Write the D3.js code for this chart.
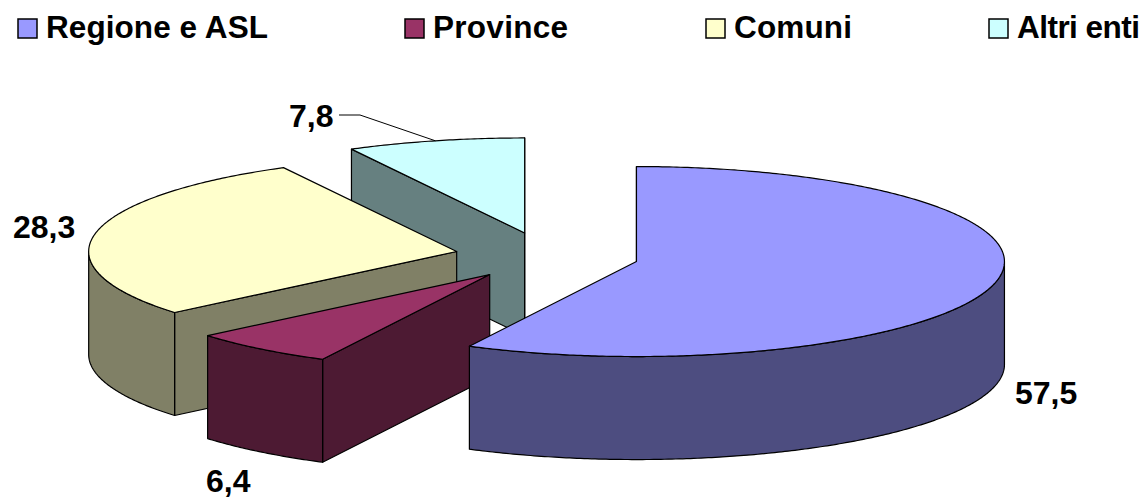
<!DOCTYPE html>
<html>
<head>
<meta charset="utf-8">
<script src="https://cdnjs.cloudflare.com/ajax/libs/d3/7.8.5/d3.min.js"></script>
<style>
    html, body { margin: 0; padding: 0; background: #fff; }
    svg { display: block; }
    text { font-family: "Liberation Sans", Arial, sans-serif; font-weight: bold; fill: #000; }
</style>
</head>
<body>
<div id="chart"></div>
<script>
const categories = ['Regione e ASL', 'Province', 'Comuni', 'Altri enti'];
const values = [57.5, 6.4, 28.3, 7.8];
const valueLabels = ['57,5', '6,4', '28,3', '7,8'];
const topColors = ['#9999ff', '#993366', '#ffffcc', '#ccffff'];
const sideColors = ['#4d4d80', '#4d1a33', '#808066', '#668080'];

const width = 1144;
const height = 499;
const center = {x: 547, y: 256};
const radiusX = 368;
const radiusY = 95;
const depth = 103;
const explode = 0.25;

const legendX = [18, 405, 706, 989];
const legendWidth = [222, 135, 118, 123];
const labelPos = [[1015, 404], [206, 492], [13, 238], [289, 127]];

const svg = d3.select('#chart')
    .append('svg')
    .attr('width', width)
    .attr('height', height);

const xScale = d3.scaleLinear().domain([-1, 1]).range([center.x - radiusX, center.x + radiusX]);
const yScale = d3.scaleLinear().domain([-1, 1]).range([center.y - radiusY, center.y + radiusY]);

const slices = d3.pie().sort(null).startAngle(0).endAngle(2 * Math.PI)(values);

const line = d3.line().x(d => d[0]).y(d => d[1]);

// unit circle point for an angle (0 = 12 o'clock, clockwise), with the slice's explode offset
function rim(slice, angle, r) {
    const mid = (slice.startAngle + slice.endAngle) / 2;
    const ux = explode * Math.sin(mid) + r * Math.sin(angle);
    const uy = -explode * Math.cos(mid) - r * Math.cos(angle);
    return [xScale(ux), yScale(uy)];
}

function arcPoints(slice, a0, a1, r) {
    const n = Math.max(2, Math.ceil((a1 - a0) / 0.01));
    return d3.range(n + 1).map(i => rim(slice, a0 + (a1 - a0) * i / n, r));
}

function drop(points) {
    return points.map(p => [p[0], p[1] + depth]);
}

function drawFace(g, points, fill) {
    g.append('path')
        .attr('d', line(points) + 'Z')
        .attr('fill', fill)
        .attr('stroke', '#000')
        .attr('stroke-width', 1.2)
        .attr('stroke-linejoin', 'round');
}

// a cut face is seen only if its outward normal points down the screen
function facesViewer(normalAngle) {
    return -Math.cos(normalAngle) > -1e-6;
}

// painter's order: back slices first
[3, 2, 1, 0].forEach(i => {
    const slice = slices[i];
    const g = svg.append('g');
    const apex = rim(slice, 0, 0);
    const a = rim(slice, slice.startAngle, 1);
    const b = rim(slice, slice.endAngle, 1);

    if (facesViewer(slice.startAngle - Math.PI / 2)) {
        drawFace(g, drop([a, apex]).concat([apex, a]), sideColors[i]);
    }
    if (facesViewer(slice.endAngle + Math.PI / 2)) {
        drawFace(g, drop([b, apex]).concat([apex, b]), sideColors[i]);
    }

    // only the part of the rim that faces the viewer has a visible wall
    const a0 = Math.max(slice.startAngle, Math.PI / 2);
    const a1 = Math.min(slice.endAngle, 1.5 * Math.PI);
    if (a1 > a0) {
        const edge = arcPoints(slice, a0, a1, 1);
        drawFace(g, edge.concat(drop(edge).reverse()), sideColors[i]);
    }

    const top = [apex].concat(arcPoints(slice, slice.startAngle, slice.endAngle, 1));
    drawFace(g, top, topColors[i]);
});

// value labels
svg.selectAll('text.value')
    .data(valueLabels)
    .enter()
    .append('text')
    .attr('class', 'value')
    .attr('x', (d, i) => labelPos[i][0])
    .attr('y', (d, i) => labelPos[i][1])
    .attr('font-size', 32)
    .text(d => d);

// leader line of the smallest slice
const leaderEnd = rim(slices[3], (slices[3].startAngle + slices[3].endAngle) / 2, 1);
svg.append('path')
    .attr('d', line([[339, 115], [360, 115], leaderEnd]))
    .attr('fill', 'none')
    .attr('stroke', '#000')
    .attr('stroke-width', 1);

// legend
const legend = svg.selectAll('g.legend')
    .data(categories)
    .enter()
    .append('g')
    .attr('class', 'legend')
    .attr('transform', (d, i) => 'translate(' + legendX[i] + ',0)');

legend.append('rect')
    .attr('x', 0)
    .attr('y', 19)
    .attr('width', 19)
    .attr('height', 19)
    .attr('fill', (d, i) => topColors[i])
    .attr('stroke', '#000')
    .attr('stroke-width', 1.5);

legend.append('text')
    .attr('x', 28)
    .attr('y', 38)
    .attr('font-size', 31.5)
    .attr('textLength', (d, i) => legendWidth[i])
    .attr('lengthAdjust', 'spacing')
    .text(d => d);
</script>
</body>
</html>
